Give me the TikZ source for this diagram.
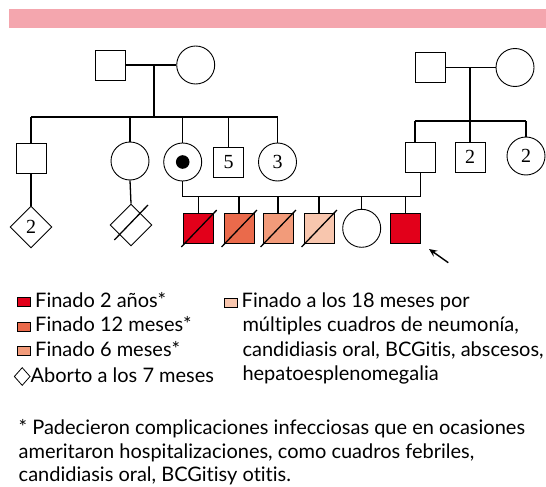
\documentclass[tikz,border=0pt]{standalone}
\usepackage{fontspec}
\setmainfont[Ligatures=NoCommon]{Lato}
\newfontfamily\numfont{Liberation Serif}
\usetikzlibrary{shapes.geometric,arrows.meta}
\definecolor{barpink}{HTML}{F4A6AE}
\definecolor{redA}{HTML}{E2001A}
\definecolor{redB}{HTML}{EA6A4B}
\definecolor{redC}{HTML}{F29B7A}
\definecolor{redD}{HTML}{F8C6AE}
\begin{document}
\begin{tikzpicture}[x=1pt,y=-1pt,
  sq/.style={draw,rectangle,minimum size=30pt,inner sep=0pt,line width=0.9pt},
  ci/.style={draw,circle,minimum size=38pt,inner sep=0pt,line width=0.9pt},
  dia/.style={draw,diamond,minimum width=42pt,minimum height=42pt,inner sep=0pt,line width=0.9pt},
  num/.style={font=\numfont\fontsize{20}{20}\selectfont},
  link/.style={line width=1.3pt},
  slash/.style={line width=1.3pt},
  legtext/.style={anchor=base west,inner sep=0pt,font=\fontsize{20}{22}\selectfont},
  legsq/.style={draw,line width=0.8pt,rectangle,minimum width=13pt,minimum height=9pt,inner sep=0pt}
]
\useasboundingbox (0,0) rectangle (546,487);
\fill[barpink] (9,9.3) rectangle (546,27.7);

% generation I
\node[sq] (m1) at (110,65) {};
\node[ci] (f1) at (195.7,65) {};
\node[sq] (m2) at (430.5,67.5) {};
\node[ci] (f2) at (515,67.5) {};
\draw[link] (m1.east) -- (f1.west);
\draw[link] (m2.east) -- (f2.west);
\coordinate (j1) at (154,65);
\coordinate (s1) at (154,117);
\coordinate (j2) at (470,67.5);
\coordinate (s2) at (470,121);
\draw[link] (j1) -- (s1);

% generation II left
\node[sq] (a1) at (31,158) {};
\node[ci] (a2) at (130,161) {};
\node[ci] (a3) at (182.7,162) {};
\fill (a3) circle (6.8pt);
\node[sq,num] (a4) at (228.5,162) {5};
\node[ci,num] (a5) at (277.5,162) {3};
\draw[link] (a1.north |- s1) -- (a5.north |- s1);
\foreach \n in {a1,a2,a3,a4,a5} \draw[link] (\n.north |- s1) -- (\n.north);

% generation II right
\node[sq] (b1) at (420.5,157.5) {};
\node[sq,num] (b2) at (470,157) {2};
\node[ci,num] (b3) at (526,156) {2};
\coordinate (b1top) at (415,121);
\draw[link] (j2) -- (b2.north);
\draw[link] (b1top) -- (b3.north |- s2);
\draw[link] (b1top) -- (b1top |- b1.north);
\draw[link] (b3.north |- s2) -- (b3.north);

% generation III left
\node[dia,num] (d1) at (31,227) {2};
\node[dia] (d2) at (131,225) {};
\draw[slash] (114.3,240) -- (148,205);
\draw[link] (a1.south) -- (d1.north);
\draw[link] (a2.south) -- (d2.north);

% couple and children
\coordinate (cl) at (182.7,196.7);
\draw[link] (a3.south) -- (cl) -- (cl -| b1.south) -- (b1.south);
\node[sq,fill=redA] (c1) at (198.8,228.5) {};
\node[sq,fill=redB] (c2) at (239,228.5) {};
\node[sq,fill=redC] (c3) at (278,228.5) {};
\node[sq,fill=redD] (c4) at (319,228.5) {};
\node[ci] (c5) at (361.7,228.3) {};
\node[sq,fill=redA] (c6) at (405.3,228.7) {};
\foreach \n in {c1,c2,c3,c4,c5,c6} \draw[link] (\n.north |- cl) -- (\n.north);
\foreach \n in {c1,c2,c3,c4} \draw[slash] ([shift={(-2,3)}]\n.south west) -- ([shift={(2.5,-3)}]\n.north east);

% proband arrow
\coordinate (arT) at (448.3,262.7);
\coordinate (arH) at (429,249);
\draw[line width=1.4pt,-{Stealth[length=8pt,width=7pt]}] (arT) -- (arH);

% legend left
\node[legsq,fill=redA] (l1) at (24,302) {};
\node[legsq,fill=redB] (l2) at (24,326.7) {};
\node[legsq,fill=redC] (l3) at (24,351) {};
\node[draw,diamond,line width=0.8pt,minimum width=16pt,minimum height=18pt,inner sep=0pt] (l4) at (22.2,376.5) {};
\node[legtext] (t1) at (35,307) {Finado 2 años*};
\node[legtext] (t2) at (35,331.5) {Finado 12 meses*};
\node[legtext] (t3) at (35,356) {Finado 6 meses*};
\node[legtext] (t4) at (30.5,382) {Aborto a los 7 meses};

% legend right
\node[legsq,fill=redD] (l5) at (231.3,302.5) {};
\node[legtext] (r1) at (241.5,307) {Finado a los 18 meses por};
\node[legtext] (r2) at (242.3,331.5) {múltiples cuadros de neumonía,};
\node[legtext] (r3) at (242.3,356) {candidiasis oral, BCGitis, abscesos,};
\node[legtext] (r4) at (242.3,380) {hepatoesplenomegalia};

% footnote
\node[legtext] (f1t) at (18.5,434) {* Padecieron complicaciones infecciosas que en ocasiones};
\node[legtext] (f2t) at (18.5,458) {ameritaron hospitalizaciones, como cuadros febriles,};
\node[legtext] (f3t) at (18.5,481.5) {candidiasis oral, BCGitisy otitis.};
\end{tikzpicture}
\end{document}
